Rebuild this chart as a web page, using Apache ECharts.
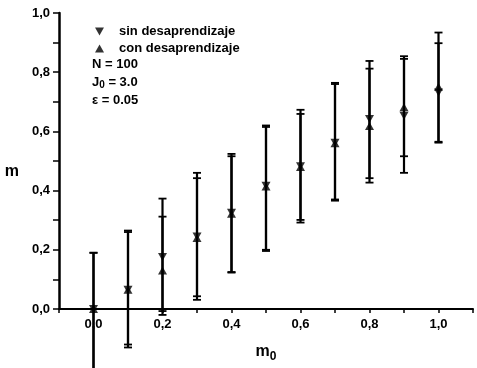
<!DOCTYPE html>
<html lang="es">
<head>
    <meta charset="UTF-8">
    <title>m vs m0</title>
    <script src="https://cdn.jsdelivr.net/npm/echarts@6/dist/echarts.min.js"></script>
    <style>
        html,body{margin:0;padding:0;background:#fff;}
    </style>
</head>
<body>
    <div id="chart1" style="width:477px;height:368px;"></div>
    <script>
        var myCharts=echarts.init(document.getElementById("chart1"))

        // datos
        var m0=[0.0,0.1,0.2,0.3,0.4,0.5,0.6,0.7,0.8,0.9,1.0]
        var sinMedia=[0.0,0.065,0.176,0.245,0.325,0.416,0.482,0.562,0.642,0.653,0.731]
        var sinBajo=[-0.22,-0.13,-0.02,0.031,0.123,0.196,0.292,0.366,0.427,0.46,0.562]
        var sinAlto=[0.19,0.265,0.373,0.46,0.524,0.62,0.673,0.764,0.838,0.854,0.898]
        var conMedia=[0.0,0.065,0.13,0.24,0.322,0.414,0.48,0.56,0.618,0.682,0.751]
        var conBajo=[-0.22,-0.12,-0.007,0.043,0.125,0.2,0.301,0.37,0.442,0.516,0.565]
        var conAlto=[0.19,0.26,0.312,0.442,0.516,0.615,0.659,0.76,0.812,0.845,0.934]

        var trianguloAbajo="path://M0,0L10,0L5,9Z"
        var fuente="Liberation Sans"

        function puntos(x,y){
            return x.map(function(v,i){return [v,y[i]]})
        }
        function barras(x,lo,hi){
            return x.map(function(v,i){return [v,lo[i],hi[i]]})
        }
        function etiqueta(v){
            var k=Math.round(v*10)
            if(k<0||k>10||k%2) return ""
            return (k/10).toFixed(1).replace(".",",")
        }
        // barra de error: linea vertical con topes
        function dibujarBarra(params,api){
            var x=api.value(0)
            var a=api.coord([x,api.value(1)])
            var b=api.coord([x,api.value(2)])
            var w=4
            var estilo={stroke:"#000",lineWidth:1.8}
            return {
                type:"group",
                children:[
                    {type:"line",shape:{x1:a[0],y1:a[1],x2:b[0],y2:b[1]},style:{stroke:"#000",lineWidth:2.2}},
                    {type:"line",shape:{x1:a[0]-w,y1:a[1],x2:a[0]+w,y2:a[1]},style:estilo},
                    {type:"line",shape:{x1:b[0]-w,y1:b[1],x2:b[0]+w,y2:b[1]},style:estilo}
                ]
            }
        }

        var option={
            animation:false,
            grid:{left:59,right:4,top:13,bottom:56},
            legend:{
                orient:"vertical",
                left:90,
                top:20,
                itemWidth:9,
                itemHeight:8,
                itemGap:4,
                selectedMode:false,
                textStyle:{fontFamily:fuente,fontWeight:"bold",fontSize:13,color:"#000",lineHeight:13,padding:[0,0,0,10]},
                data:[
                    {name:"sin desaprendizaje",icon:trianguloAbajo},
                    {name:"con desaprendizaje",icon:"triangle"}
                ]
            },
            title:{
                left:92,
                top:55,
                padding:0,
                text:"{t|N = 100}\n{t|J}{s|0}{t| = 3.0}\n{t|ε = 0.05}",
                textStyle:{
                    lineHeight:18,
                    rich:{
                        t:{fontFamily:fuente,fontWeight:"bold",fontSize:13,color:"#000",lineHeight:18},
                        s:{fontFamily:fuente,fontWeight:"bold",fontSize:10,color:"#000",lineHeight:18,padding:[7,0,0,0]}
                    }
                }
            },
            xAxis:{
                type:"value",
                min:-0.1,
                max:1.1,
                interval:0.1,
                name:"{m|m}{s|0}",
                nameLocation:"middle",
                nameGap:32,
                nameTextStyle:{
                    rich:{
                        m:{fontFamily:fuente,fontWeight:"bold",fontSize:16,color:"#000"},
                        s:{fontFamily:fuente,fontWeight:"bold",fontSize:12,color:"#000",padding:[10,0,0,0]}
                    }
                },
                splitLine:{show:false},
                axisLine:{onZero:false,lineStyle:{color:"#000",width:2}},
                axisTick:{length:4,lineStyle:{color:"#000",width:1.5}},
                axisLabel:{
                    margin:9,
                    fontFamily:fuente,fontWeight:"bold",fontSize:13,color:"#000",
                    showMinLabel:true,showMaxLabel:true,
                    formatter:etiqueta
                }
            },
            yAxis:{
                type:"value",
                min:0,
                max:1,
                interval:0.1,
                name:"\nm",
                nameLocation:"middle",
                nameRotate:0,
                nameGap:40,
                nameTextStyle:{fontFamily:fuente,fontWeight:"bold",fontSize:16,color:"#000",lineHeight:22},
                splitLine:{show:false},
                axisLine:{show:true,onZero:false,lineStyle:{color:"#000",width:2.5}},
                axisTick:{length:6,lineStyle:{color:"#000",width:1.5}},
                axisLabel:{
                    margin:9,
                    fontFamily:fuente,fontWeight:"bold",fontSize:13,color:"#000",
                    formatter:etiqueta
                }
            },
            series:[
                {
                    name:"barras sin",
                    type:"custom",
                    clip:false,
                    renderItem:dibujarBarra,
                    encode:{x:0,y:[1,2]},
                    data:barras(m0,sinBajo,sinAlto),
                    z:2
                },
                {
                    name:"barras con",
                    type:"custom",
                    clip:false,
                    renderItem:dibujarBarra,
                    encode:{x:0,y:[1,2]},
                    data:barras(m0,conBajo,conAlto),
                    z:2
                },
                {
                    name:"sin desaprendizaje",
                    type:"scatter",
                    symbol:trianguloAbajo,
                    symbolSize:[9,8],
                    itemStyle:{color:"#000"},
                    data:puntos(m0,sinMedia),
                    z:3
                },
                {
                    name:"con desaprendizaje",
                    type:"scatter",
                    symbol:"triangle",
                    symbolSize:[9,8],
                    itemStyle:{color:"#000"},
                    data:puntos(m0,conMedia),
                    z:3
                }
            ]
        }
        myCharts.setOption(option)
    </script>
</body>
</html>
